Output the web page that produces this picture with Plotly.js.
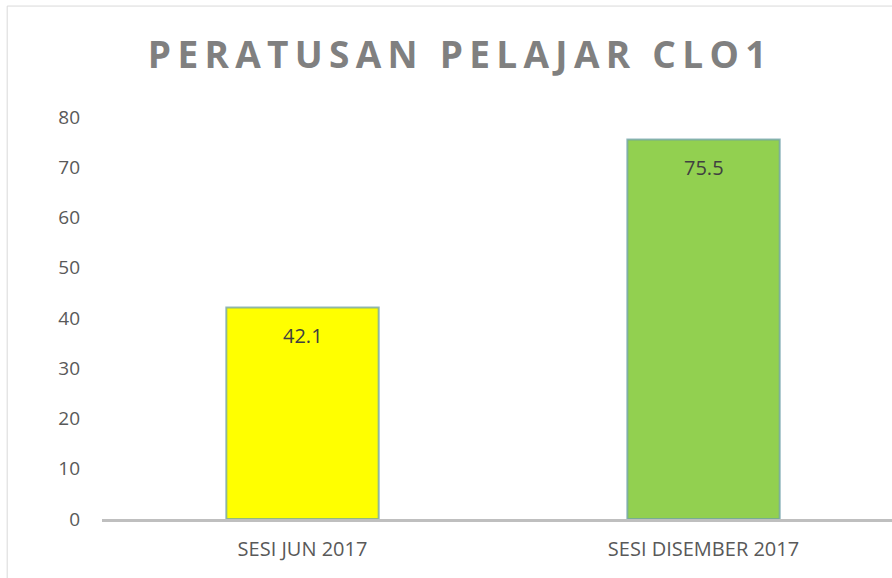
<!DOCTYPE html>
<html>
<head>
<meta charset="utf-8">
<script src="https://cdn.plot.ly/plotly-3.0.1.min.js"></script>
<style>
html,body{margin:0;padding:0;overflow:hidden;background:#fff;}
#chart{width:892px;height:578px;}
.gtitle{letter-spacing:6.3px;}
</style>
</head>
<body>
<div id="chart"></div>
<script>
const categories = ["SESI JUN 2017", "SESI DISEMBER 2017"];
const values = [42.1, 75.5];
const labels = ["42.1", "75.5"];
const barColors = ["#FFFF00", "#92D050"];
const yTicks = [0, 10, 20, 30, 40, 50, 60, 70, 80];

const trace = {
  type: "bar",
  x: categories,
  y: values,
  width: 0.38,
  marker: {color: barColors, line: {color: "rgba(110,160,170,0.75)", width: 2}},
  hoverinfo: "none"
};

const annotations = categories.map((c, i) => ({
  x: c, y: values[i], xref: "x", yref: "y",
  text: labels[i], showarrow: false,
  yanchor: "middle", yshift: -28,
  font: {family: "Open Sans, sans-serif", size: 20, color: "#404040"}
}));

const layout = {
  width: 892, height: 578,
  margin: {l: 102, r: 0, t: 117, b: 59},
  paper_bgcolor: "#fff", plot_bgcolor: "#fff",
  showlegend: false,
  title: {
    text: "<b>PERATUSAN PELAJAR CLO1</b>",
    font: {family: "Open Sans, sans-serif", size: 37, color: "#808080"},
    x: 0.516, xanchor: "center", y: 0.905, yanchor: "middle"
  },
  xaxis: {
    type: "category",
    range: [-0.5, 1.47],
    showline: true, linecolor: "#bfbfbf", linewidth: 3,
    ticks: "", showgrid: false, zeroline: false,
    tickfont: {family: "Open Sans, sans-serif", size: 20, color: "#595959"},
    ticklabelstandoff: 10
  },
  yaxis: {
    range: [0, 80],
    tickvals: yTicks,
    ticktext: yTicks.map(String),
    showgrid: false, zeroline: false, showline: false, ticks: "",
    tickfont: {family: "Open Sans, sans-serif", size: 19, color: "#595959"},
    ticklabelstandoff: 21
  },
  annotations: annotations,
  shapes: [{
    type: "rect", xref: "paper", yref: "paper",
    x0: -0.12, x1: 1.2, y0: -0.5, y1: 1.276,
    line: {color: "#d9d9d9", width: 1}, fillcolor: "rgba(0,0,0,0)", layer: "below"
  }]
};

Plotly.newPlot("chart", [trace], layout, {displayModeBar: false, staticPlot: true});
</script>
</body>
</html>
